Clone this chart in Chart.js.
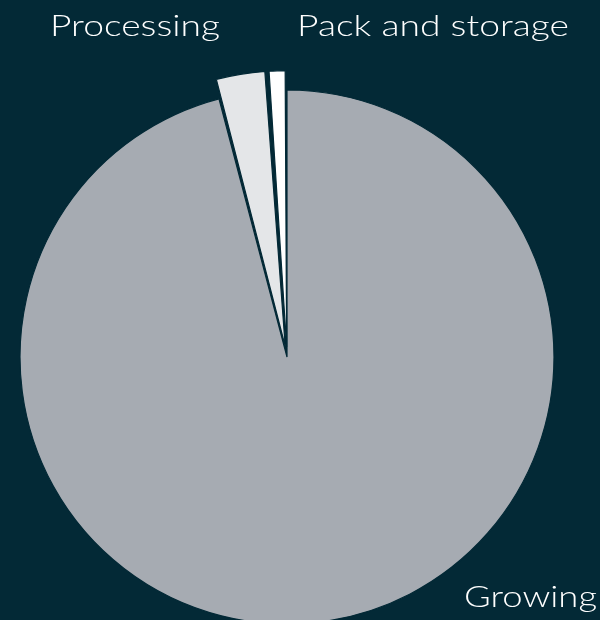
<!DOCTYPE html>
<html>
<head>
<meta charset="utf-8">
<script src="https://cdn.jsdelivr.net/npm/chart.js@4/dist/chart.umd.min.js"></script>
<style>
  html, body { margin: 0; padding: 0; background: #032936; }
  #wrap { width: 600px; height: 620px; position: relative; }
</style>
</head>
<body>
<div id="wrap"><canvas id="c" width="600" height="620"></canvas></div>
<script>
const categories = ["Growing", "Processing", "Pack and storage"];
const shares = [95.9, 3, 1.1];
const sliceColors = ["#a6abb2", "#e4e6e8", "#ffffff"];
const sliceOffsets = [0, 43, 40];

// label placement (left x, baseline y, target width)
const labelBoxes = {
  "Growing": [464, 607, 133],
  "Processing": [50, 36, 170],
  "Pack and storage": [297, 36, 272]
};

const labelPlugin = {
  id: 'sliceLabels',
  afterDraw(chart) {
    const ctx = chart.ctx;
    ctx.save();
    ctx.fillStyle = '#ffffff';
    ctx.font = '300 30px Lato, "Open Sans", sans-serif';
    ctx.textBaseline = 'alphabetic';
    ctx.textAlign = 'left';
    chart.data.labels.forEach((lab) => {
      const b = labelBoxes[lab];
      if (!b) return;
      const w = ctx.measureText(lab).width;
      const sx = b[2] / w;
      ctx.save();
      ctx.translate(b[0], b[1]);
      ctx.scale(sx, 1);
      ctx.fillText(lab, 0, 0);
      ctx.restore();
    });
    ctx.restore();
  }
};

new Chart(document.getElementById('c'), {
  type: 'pie',
  data: {
    labels: categories,
    datasets: [{
      data: shares,
      backgroundColor: sliceColors,
      borderColor: '#032936',
      borderWidth: 1.2,
      offset: sliceOffsets,
      clip: false
    }]
  },
  options: {
    responsive: false,
    animation: false,
    radius: 267,
    layout: { padding: { top: 94, bottom: 0, left: 0, right: 26 } },
    plugins: {
      legend: { display: false },
      tooltip: { enabled: false },
      title: { display: false }
    }
  },
  plugins: [labelPlugin]
});
</script>
</body>
</html>
